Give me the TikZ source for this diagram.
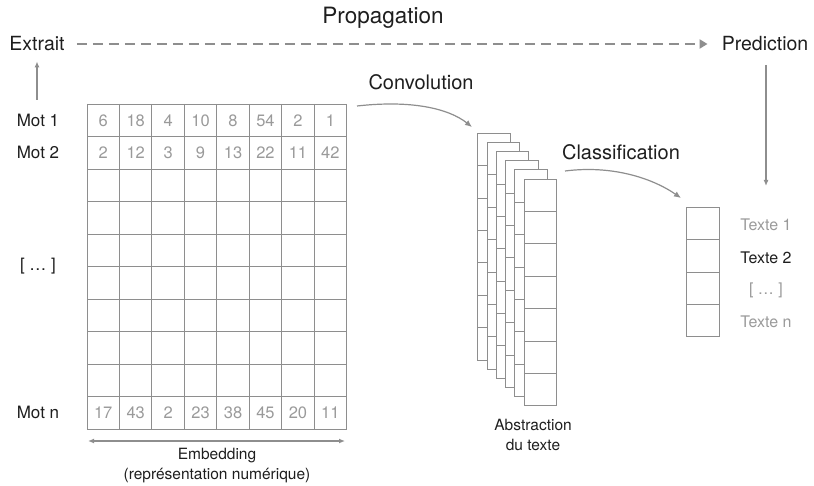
\documentclass[tikz,border=0pt]{standalone}
\usepackage{fontspec}
\setmainfont{TeX Gyre Heros}
\usetikzlibrary{arrows.meta}
\definecolor{lg}{HTML}{8E8E8E}
\definecolor{tg}{HTML}{9A9A9A}
\definecolor{tk}{HTML}{1E1E1E}
\begin{document}
\begin{tikzpicture}[x=1pt,y=-1pt,
  big/.style={text=tk,inner sep=0pt,font=\fontsize{19.5}{22}\selectfont},
  mid/.style={text=tk,inner sep=0pt,font=\fontsize{17}{20}\selectfont},
  small/.style={text=tk,inner sep=0pt,align=center,font=\fontsize{15.5}{20}\selectfont},
  num/.style={text=tg,inner sep=0pt,font=\fontsize{16.5}{19}\selectfont},
  outg/.style={text=tg,inner sep=0pt,font=\fontsize{16}{19}\selectfont},
  gridline/.style={draw=lg,line width=0.9pt},
  flow/.style={draw=lg,line width=1.2pt,-{Latex[length=7pt,width=6pt]}},
]
\useasboundingbox (0,0) rectangle (814,486);

% titles and ends of propagation
\node[big] (extrait) at (37,44) {Extrait};
\node[big,font=\fontsize{22.5}{26}\selectfont] (prop) at (383,18) {Propagation};
\node[big] (pred) at (765,44) {Prediction};
\draw[draw=lg,line width=2pt,dash pattern=on 10pt off 6pt,
      -{Triangle[length=8pt,width=9pt]},shorten <=12pt,shorten >=14pt]
      (extrait.east) -- (pred.west);

% embedding grid
\def\cw{32.45}
\def\ch{32.5}
\node[inner sep=0pt,minimum width=259.6pt,minimum height=325pt,anchor=north west] (grid) at (87,104) {};
\foreach \i in {0,...,8}
  \draw[gridline] (87+\i*\cw,104) -- (87+\i*\cw,429);
\foreach \j in {0,...,10}
  \draw[gridline] (87,104+\j*\ch) -- (346.6,104+\j*\ch);
\foreach \v [count=\i from 0] in {6,18,4,10,8,54,2,1}
  \node[num] (ra\i) at (87+\i*\cw+0.5*\cw,120.5) {\v};
\foreach \v [count=\i from 0] in {2,12,3,9,13,22,11,42}
  \node[num] (rb\i) at (87+\i*\cw+0.5*\cw,152.5) {\v};
\foreach \v [count=\i from 0] in {17,43,2,23,38,45,20,11}
  \node[num] (rn\i) at (87+\i*\cw+0.5*\cw,412.5) {\v};

% word labels
\node[mid] (mot1) at (38,120) {Mot 1};
\node[mid] (mot2) at (38,152) {Mot 2};
\node[mid] (motd) at (38,266) {[ … ]};
\node[mid] (motn) at (38,412) {Mot n};
\coordinate (upstart) at (37,100);
\draw[flow,-{Latex[length=6pt,width=5pt]},shorten >=10pt] (upstart) -- (extrait.south);

% embedding arrow
\coordinate (el) at (88,441);
\coordinate (er) at (345,441);
\draw[draw=lg,line width=1.2pt,{Latex[length=6pt,width=5pt]}-{Latex[length=6pt,width=5pt]}] (el) -- (er);
\node[small] (emb) at (217,466) {Embedding\\(représentation numérique)};

% convolution stack
\foreach \k in {0,...,5}{
  \pgfmathsetmacro{\sx}{477.7+9.25*\k}
  \pgfmathsetmacro{\sy}{133.3+9.15*\k}
  \filldraw[gridline,fill=white] (\sx,\sy) rectangle (\sx+32.7,\sy+226.7);
  \foreach \r in {1,...,6}
    \draw[gridline] (\sx,\sy+\r*32.386) -- (\sx+32.7,\sy+\r*32.386);
}
\node[inner sep=0pt,minimum width=32.7pt,minimum height=226.7pt,anchor=north west] (front) at (524,179) {};
\node[inner sep=0pt,minimum width=32.7pt,minimum height=226.7pt,anchor=north west] (back) at (477.7,133.3) {};
\node[small] (abs) at (533,434.5) {Abstraction\\du texte};

\node[big,font=\fontsize{20}{23}\selectfont] (conv) at (421,82) {Convolution};
\coordinate (cs) at (357,106);
\coordinate (ce) at (472,127);
\draw[flow] (cs) .. controls (410,100) and (448,108) .. (ce);

\node[big,font=\fontsize{20}{23}\selectfont] (clas) at (621,152) {Classification};
\coordinate (ks) at (565,171);
\coordinate (ke) at (681,198);
\draw[flow] (ks) .. controls (612,165) and (652,178) .. (ke);

% output column
\node[inner sep=0pt,minimum width=32.6pt,minimum height=129pt,anchor=north west] (outcol) at (686.7,207.7) {};
\draw[gridline] (686.7,207.7) rectangle (719.3,336.7);
\foreach \r in {1,2,3}
  \draw[gridline] (686.7,207.7+\r*32.25) -- (719.3,207.7+\r*32.25);
\node[outg] (t1) at (766,225) {Texte 1};
\node[outg,text=tk] (t2) at (766,258) {Texte 2};
\node[outg] (td) at (766,290) {[ … ]};
\node[outg] (tn) at (766,322) {Texte n};

\coordinate (pd) at (766,65);
\coordinate (pe) at (766,186);
\draw[flow,-{Latex[length=6pt,width=5pt]}] (pd) -- (pe);
\end{tikzpicture}
\end{document}
